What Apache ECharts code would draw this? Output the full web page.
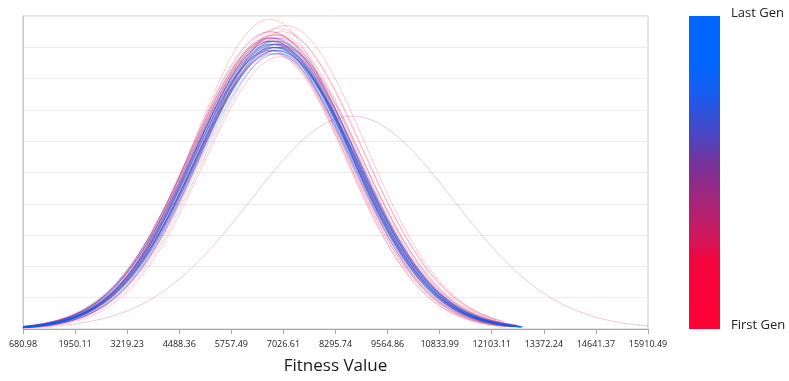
<!DOCTYPE html>
<html>
<head>
<meta charset="utf-8">
<script src="https://cdn.jsdelivr.net/npm/echarts@6/dist/echarts.min.js"></script>
<style>
html,body{margin:0;padding:0;background:#fff;}
#chart{width:789px;height:381px;}
</style>
</head>
<body>
<div id="chart"></div>
<script>
// X-axis tick labels (fitness values)
const tickLabels = ['680.98','1950.11','3219.23','4488.36','5757.49','7026.61','8295.74','9564.86','10833.99','12103.11','13372.24','14641.37','15910.49'];
const fitnessMin = 680.98;
// Per-generation fitted normal distribution (index 0 = first gen, last = last gen)
const genMean = [8700, 6700, 6980, 6620, 7080, 6760, 6900, 6650, 7020, 6800,
                 6880, 6720, 6950, 6780, 6680, 6900, 6740, 6850, 6700, 6920,
                 6770, 6860, 6690, 6830, 6900, 6740, 6810, 6880, 6720, 6850,
                 6790, 6930, 6700, 6840, 6760, 6890, 6730, 6820, 6870, 6750,
                 6800, 6910, 6710, 6860, 6780, 6840, 6700, 6890, 6760, 6820,
                 6870, 6740, 6830, 6790, 6900, 6720, 6850, 6770, 6810, 6860];
const genSd   = [2470, 1850, 1980, 1880, 1950, 1900, 2020, 1860, 1930, 1970,
                 1890, 1940, 1870, 2000, 1910, 1960, 1880, 1940, 1920, 1990,
                 1900, 1950, 1880, 1930, 1970, 1910, 1940, 1890, 1960, 1920,
                 1950, 1900, 1940, 1980, 1910, 1930, 1960, 1890, 1940, 1920,
                 1970, 1900, 1950, 1930, 1910, 1960, 1940, 1900, 1950, 1920,
                 1940, 1970, 1910, 1930, 1950, 1900, 1960, 1940, 1920, 1930];
// Peak density of each generation as a share of the plot height
const genPeak = [0.68, 0.99, 0.95, 0.92, 0.97, 0.88, 0.96, 0.93, 0.90, 0.94,
                 0.91, 0.95, 0.87, 0.93, 0.89, 0.94, 0.92, 0.90, 0.95, 0.91,
                 0.93, 0.89, 0.92, 0.94, 0.90, 0.92, 0.91, 0.93, 0.89, 0.92,
                 0.90, 0.93, 0.91, 0.89, 0.92, 0.90, 0.93, 0.91, 0.89, 0.92,
                 0.90, 0.91, 0.93, 0.89, 0.91, 0.92, 0.90, 0.88, 0.91, 0.90,
                 0.92, 0.89, 0.91, 0.90, 0.88, 0.91, 0.89, 0.90, 0.88, 0.90];
const genMax  = [15910.49, 12300, 12200, 12500, 12350, 12250, 12400, 12450, 12500, 12300,
                 12600, 12550, 12650, 12500, 12600, 12700, 12550, 12650, 12600, 12700,
                 12650, 12700, 12600, 12750, 12700, 12650, 12750, 12700, 12800, 12700,
                 12750, 12700, 12800, 12750, 12700, 12800, 12750, 12800, 12700, 12850,
                 12750, 12800, 12750, 12800, 12850, 12750, 12800, 12850, 12800, 12750,
                 12850, 12800, 12850, 12800, 12850, 12800, 12750, 12850, 12800, 12850];

const colorStops = [
  [0.00, '#ff0033'], [0.22, '#f2053e'], [0.28, '#d51558'], [0.40, '#a82478'],
  [0.52, '#7a3298'], [0.62, '#4a46c2'], [0.75, '#1a5cf0'], [0.85, '#0066ff'], [1.00, '#0066ff']
];

function colorAt(t){
  for (let i = 1; i < colorStops.length; i++){
    if (t <= colorStops[i][0]){
      const a = colorStops[i-1], b = colorStops[i];
      const r = (t - a[0]) / (b[0] - a[0] || 1);
      return echarts.color.lerp(r, [a[1], b[1]]);
    }
  }
  return colorStops[colorStops.length-1][1];
}

const tickVals = tickLabels.map(Number);
const tickStep = tickVals[1] - tickVals[0];
function curve(mean, sd, peak, xmax){
  const pts = [];
  const step = tickStep / 10;
  const f = x => { const z = (x - mean) / sd; return peak * Math.exp(-0.5 * z * z); };
  for (let x = fitnessMin; x < xmax; x += step) pts.push([x, f(x)]);
  pts.push([xmax, f(xmax)]);
  return pts;
}

const N = genMean.length;
const series = [];
for (let g = 0; g < N; g++){
  const t = g / (N - 1);
  series.push({
    type: 'line',
    name: 'Gen ' + (g + 1),
    data: curve(genMean[g], genSd[g], genPeak[g], genMax[g]),
    showSymbol: false,
    symbol: 'none',
    silent: true,
    lineStyle: { width: 0.7, color: g === 0 ? '#c8809a' : colorAt(t), opacity: g === 0 ? 0.6 : 0.32 },
    z: 2
  });
}

const chart = echarts.init(document.getElementById('chart'), null, { renderer: 'canvas' });
chart.setOption({
  animation: false,
  backgroundColor: '#ffffff',
  grid: { left: 23, right: 141, top: 16, bottom: 52, show: true, borderColor: '#c8c8c8', borderWidth: 1, backgroundColor: 'transparent' },
  xAxis: {
    type: 'value',
    min: tickVals[0],
    max: tickVals[tickVals.length - 1],
    name: 'Fitness Value',
    nameLocation: 'middle',
    nameGap: 29,
    nameTextStyle: { fontFamily: 'Open Sans', fontSize: 17, color: '#1a1a1a' },
    axisLine: { show: true, lineStyle: { color: '#a8a8a8', width: 1 } },
    axisTick: { show: true, length: 5, customValues: tickVals, lineStyle: { color: '#a8a8a8' } },
    axisLabel: { customValues: tickVals, fontFamily: 'Open Sans', fontSize: 9, color: '#222', margin: 11,
                 formatter: v => { const i = tickVals.findIndex(t => Math.abs(t - v) < 1e-6); return i >= 0 ? tickLabels[i] : v.toFixed(2); } },
    splitLine: { show: false }
  },
  yAxis: {
    type: 'value',
    min: 0, max: 1, interval: 0.1,
    axisLine: { show: true, lineStyle: { color: '#c8c8c8' } },
    axisTick: { show: false },
    axisLabel: { show: false },
    splitLine: { show: true, lineStyle: { color: '#ebebeb', width: 1 } }
  },
  series: series,
  graphic: [
    { type: 'rect', left: 689, top: 16, shape: { width: 31, height: 313 },
      style: { fill: new echarts.graphic.LinearGradient(0, 0, 0, 1,
        colorStops.slice().reverse().map(s => ({ offset: 1 - s[0], color: s[1] }))) } },
    { type: 'text', left: 731, top: 7, style: { text: 'Last Gen', font: '13px "Open Sans"', fill: '#222' } },
    { type: 'text', left: 731, top: 319, style: { text: 'First Gen', font: '13px "Open Sans"', fill: '#222' } }
  ]
});
</script>
</body>
</html>
